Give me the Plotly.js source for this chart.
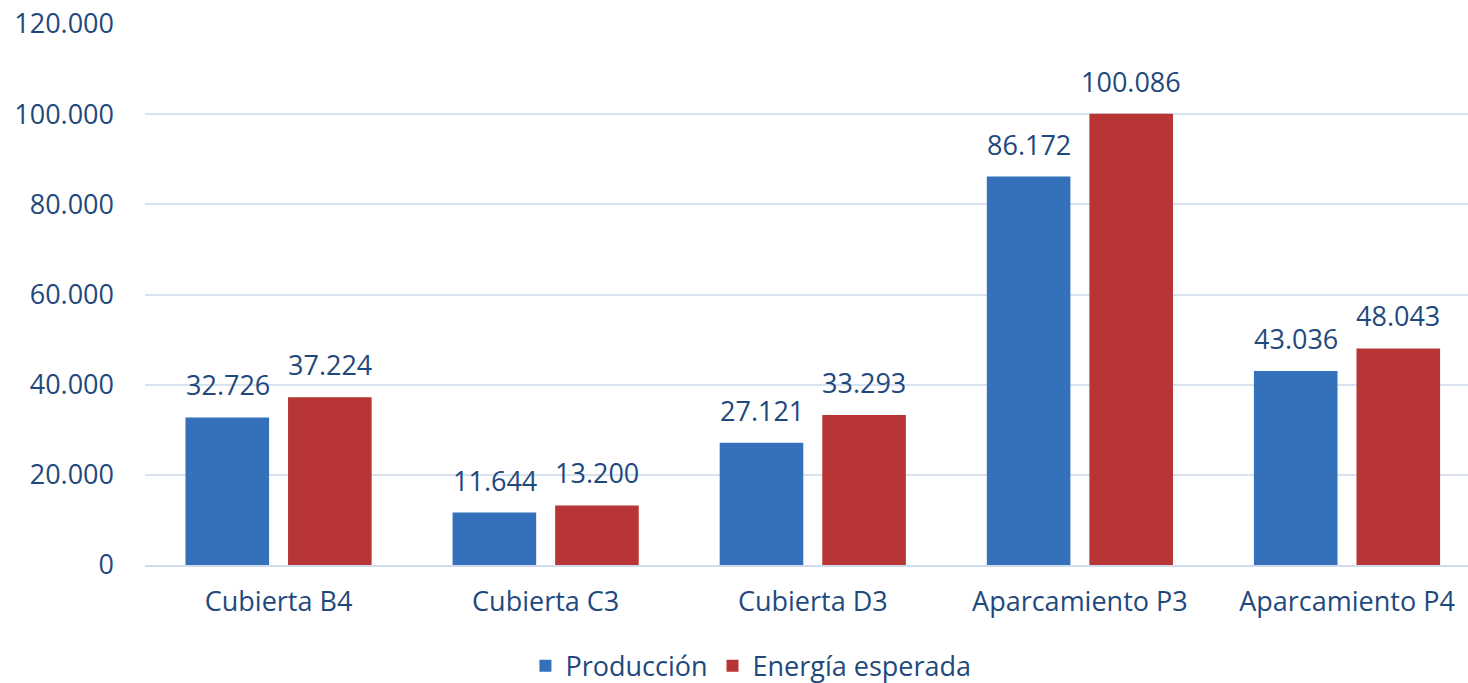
<!DOCTYPE html>
<html>
<head>
<meta charset="utf-8">
<script src="https://cdn.plot.ly/plotly-3.0.1.min.js"></script>
<style>html,body{margin:0;padding:0;background:#fff;}#chart{width:1468px;height:683px;}</style>
</head>
<body>
<div id="chart"></div>
<script>
const categories = ["Cubierta B4", "Cubierta C3", "Cubierta D3", "Aparcamiento P3", "Aparcamiento P4"];
const produccion = [32726, 11644, 27121, 86172, 43036];
const energiaEsperada = [37224, 13200, 33293, 100086, 48043];
const seriesNames = ["Producción", "Energía esperada"];
const yTicks = [0, 20000, 40000, 60000, 80000, 100000, 120000];

const txtColor = "#1F497D";
const fontFam = "'Open Sans', 'Noto Sans', sans-serif";
const fs = 27;

const traces = [
  {
    type: "bar", name: seriesNames[0], x: categories, y: produccion,
    marker: {color: "#3471BA"}, hoverinfo: "x+y"
  },
  {
    type: "bar", name: seriesNames[1], x: categories, y: energiaEsperada,
    marker: {color: "#B73534"}, hoverinfo: "x+y"
  }
];

const fmt = v => v.toLocaleString("de-DE");
const annotations = [];
[produccion, energiaEsperada].forEach((series, si) => {
  series.forEach((v, i) => {
    annotations.push({
      x: categories[i], y: v, xref: "x", yref: "y",
      text: fmt(v), showarrow: false,
      xanchor: "center", yanchor: "bottom",
      xshift: si === 0 ? -51 : 51, yshift: 12,
      font: {family: fontFam, size: fs, color: txtColor}
    });
  });
});

const layout = {
  width: 1468, height: 683,
  margin: {l: 145, r: 0, t: 24, b: 118, autoexpand: false},
  paper_bgcolor: "#ffffff", plot_bgcolor: "#ffffff",
  separators: ",.",
  font: {family: fontFam, size: fs, color: txtColor},
  barmode: "group",
  bargap: 0.232, bargroupgap: 0.185,
  showlegend: true,
  annotations: annotations,
  legend: {
    orientation: "h", x: 0.458, xanchor: "center", y: -0.187, yanchor: "middle",
    font: {family: fontFam, size: fs, color: txtColor},
    itemwidth: 30, traceorder: "normal"
  },
  xaxis: {
    type: "category", range: [-0.5, 4.453],
    showgrid: false, zeroline: false,
    showline: true, linecolor: "#D0DCEE", linewidth: 2,
    ticks: "", tickfont: {family: fontFam, size: fs, color: txtColor},
    ticklabelstandoff: 12
  },
  yaxis: {
    range: [0, 120000], tickvals: yTicks, tickformat: ",.0f",
    showgrid: true, gridcolor: "#D9E3F0", gridwidth: 2,
    zeroline: false, showline: false, ticks: "",
    tickfont: {family: fontFam, size: fs, color: txtColor},
    ticklabelstandoff: 30
  }
};

Plotly.newPlot("chart", traces, layout, {displayModeBar: false, staticPlot: true});
</script>
</body>
</html>
